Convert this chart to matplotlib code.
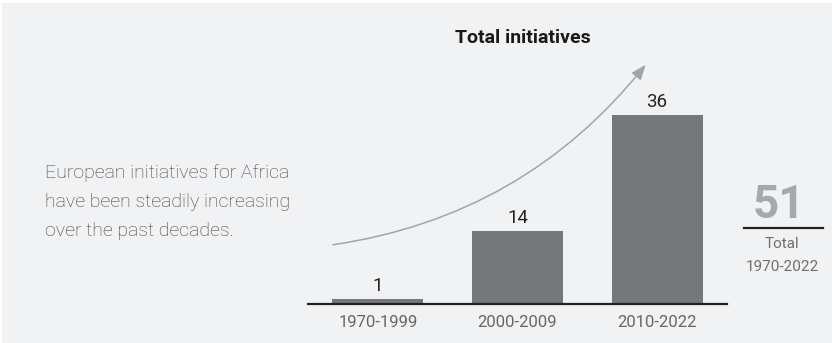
import matplotlib.pyplot as plt
from matplotlib.patches import Rectangle

# Initiatives per period
periods = ['1970-1999', '2000-2009', '2010-2022']
initiatives = [1, 14, 36]
total = sum(initiatives)

narrow = ['Liberation Sans Narrow', 'Roboto', 'DejaVu Sans']
bar_color = '#76777b'
panel_color = '#f1f2f4'

fig = plt.figure(figsize=(8.32, 3.43), dpi=100)
fig.patch.set_facecolor('white')
fig.patches.append(Rectangle((2 / 832, 0), 1, 1 - 3 / 343, transform=fig.transFigure,
                             facecolor=panel_color, edgecolor='none', zorder=-1))

ax = fig.add_axes([308 / 832, 39 / 343, 419 / 832, 210 / 343])
ax.set_zorder(2)
ax.set_facecolor('none')
x = range(len(periods))
bars = ax.bar(x, initiatives, width=0.652, color=bar_color)
for rect, v in zip(bars, initiatives):
    ax.text(rect.get_x() + rect.get_width() / 2, v + 0.7, str(v), ha='center', va='bottom',
            fontsize=13.5, color='#222222', family=narrow)

ax.set_xlim(-0.5, 2.5)
ax.set_ylim(0, 40)
ax.set_xticks(list(x))
ax.set_xticklabels(periods, fontsize=12, color='#666666', family=narrow)
ax.tick_params(axis='x', length=0, pad=8)
ax.set_yticks([])
for side in ['top', 'right', 'left']:
    ax.spines[side].set_visible(False)
ax.spines['bottom'].set_color('#222222')
ax.spines['bottom'].set_linewidth(1.6)

# Growth arrow
ax.annotate('', xy=(0.81, 1.15), xytext=(0.053, 0.28), xycoords='axes fraction',
            textcoords='axes fraction', annotation_clip=False,
            arrowprops=dict(arrowstyle='-|>,head_length=0.9,head_width=0.35', color='#a3a4a7',
                            lw=1.1, connectionstyle='arc3,rad=0.2'))

fig.text(523 / 832, 1 - 38 / 343, 'Total initiatives', ha='center', va='center',
         fontsize=14, fontweight='bold', color='#1a1a1a', family=narrow)

fig.text(45 / 832, 1 - 202 / 343,
         'European initiatives for Africa\nhave been steadily increasing\nover the past decades.',
         ha='left', va='center', fontsize=14, fontweight='light', color='#3f3f3f',
         family=narrow, linespacing=1.8)

# Overall total on the right
fig.text(779 / 832, 1 - 205 / 343, str(total), ha='center', va='center',
         fontsize=33, fontweight='bold', color='#a7a8aa', family=narrow)
fig.add_artist(plt.Line2D([744 / 832, 823 / 832], [1 - 228 / 343] * 2,
                          color='#222222', lw=1.6))
fig.text(782 / 832, 1 - 244 / 343, 'Total', ha='center', va='center',
         fontsize=11, color='#6f6f6f', family=narrow)
fig.text(782 / 832, 1 - 267 / 343, '1970-2022', ha='center', va='center',
         fontsize=11, color='#6f6f6f', family=narrow)

fig.savefig('out.png', dpi=100, facecolor=fig.get_facecolor())
